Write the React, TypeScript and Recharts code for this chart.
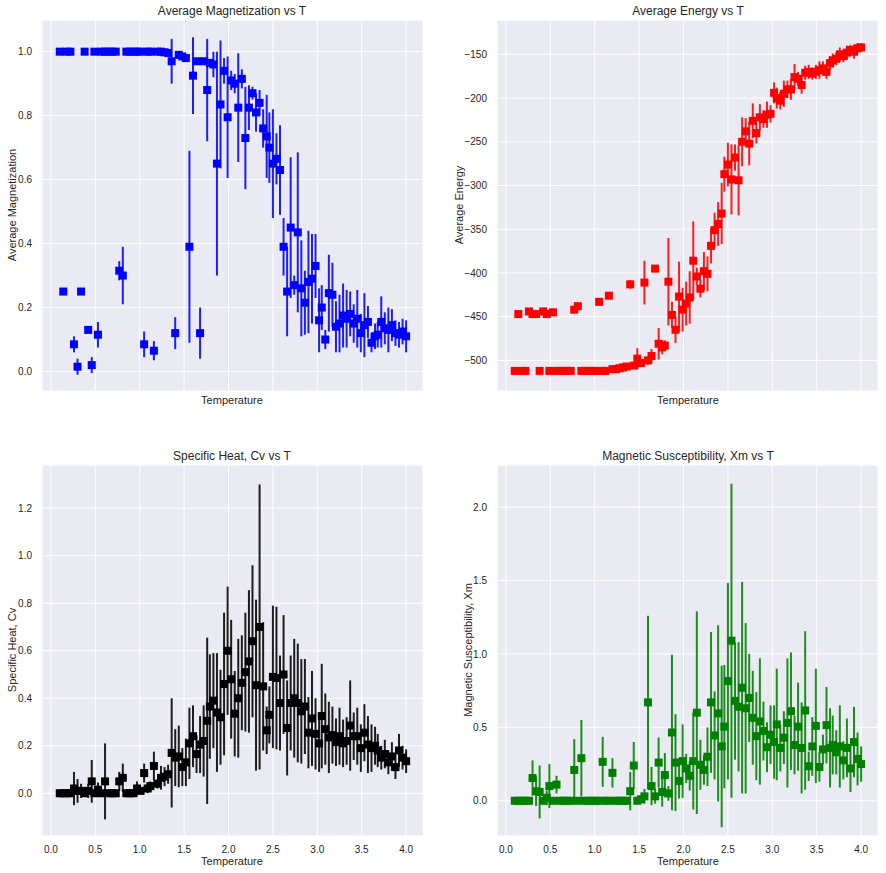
import React from 'react';
import { ScatterChart, Scatter, XAxis, YAxis, CartesianGrid, ErrorBar } from 'recharts';

const temps = [0.10,0.14,0.18,0.22,0.26,0.30,0.34,0.38,0.42,0.46,0.49,0.53,0.57,0.61,0.65,0.69,0.73,0.77,0.81,0.85,0.89,0.93,0.97,1.01,1.05,1.09,1.12,1.16,1.20,1.24,1.28,1.32,1.36,1.40,1.44,1.48,1.52,1.56,1.60,1.64,1.68,1.72,1.76,1.79,1.83,1.87,1.91,1.95,1.99,2.03,2.07,2.11,2.15,2.19,2.23,2.27,2.31,2.35,2.39,2.43,2.46,2.50,2.54,2.58,2.62,2.66,2.70,2.74,2.78,2.82,2.86,2.90,2.94,2.98,3.02,3.05,3.09,3.13,3.17,3.21,3.25,3.29,3.33,3.37,3.41,3.45,3.49,3.53,3.57,3.61,3.65,3.68,3.72,3.76,3.80,3.84,3.88,3.92,3.96,4.00];

const magVal = [1,0.25,1,1,0.085,0.015,0.25,1,0.13,0.02,1,0.115,1,1,1,1,1,0.315,0.30,1,1,1,1,1,0.085,1,1,0.065,1,1,0.998,0.996,0.97,0.12,0.99,0.985,0.98,0.39,0.925,0.97,0.12,0.97,0.88,0.965,0.96,0.65,0.835,0.94,0.795,0.91,0.90,0.825,0.915,0.73,0.825,0.87,0.81,0.84,0.76,0.735,0.70,0.65,0.665,0.63,0.39,0.25,0.45,0.27,0.435,0.26,0.215,0.28,0.29,0.33,0.16,0.20,0.10,0.245,0.24,0.14,0.15,0.175,0.165,0.18,0.15,0.165,0.12,0.145,0.155,0.09,0.11,0.115,0.155,0.135,0.13,0.145,0.12,0.115,0.125,0.11];
const magErr = [0,0,0,0,0.025,0.025,0,0,0.01,0.025,0,0.04,0,0,0,0,0,0.03,0.09,0,0,0,0,0,0.04,0,0,0.03,0,0,0.002,0.003,0.07,0.05,0.005,0.01,0.01,0.3,0.12,0.01,0.08,0.01,0.16,0.01,0.04,0.35,0.2,0.04,0.19,0.03,0.03,0.17,0.03,0.16,0.07,0.02,0.06,0.04,0.06,0.13,0.11,0.17,0.08,0.14,0.09,0.14,0.22,0.03,0.25,0.15,0.1,0.16,0.14,0.10,0.1,0.07,0.03,0.12,0.1,0.08,0.09,0.1,0.09,0.07,0.06,0.09,0.06,0.1,0.05,0.03,0.04,0.04,0.08,0.05,0.07,0.05,0.04,0.04,0.04,0.05];

const enVal = [-512,-447,-512,-512,-444,-447,-447,-512,-444,-447,-512,-445,-512,-512,-512,-512,-512,-442,-438,-512,-512,-512,-512,-512,-433,-512,-512,-426,-510,-510,-509,-508,-507,-413,-506,-498,-503,-411,-500,-495,-395,-481,-485,-483,-410,-448,-465,-427,-442,-435,-428,-386,-404,-418,-398,-401,-369,-351,-344,-332,-287,-276,-293,-268,-294,-250,-238,-252,-226,-240,-222,-224,-219,-218,-194,-200,-203,-195,-190,-190,-176,-178,-185,-171,-170,-172,-170,-168,-166,-170,-160,-157,-155,-150,-152,-148,-145,-147,-143,-142];
const enErr = [0,0,0,0,0,0,0,0,0,3,0,0,0,0,0,0,0,0,0,0,0,0,0,0,3,0,0,4,1,1,2,2,3,5,3,12,4,25,5,8,4,18,8,6,50,15,15,40,25,25,30,45,10,10,22,20,20,20,25,35,20,25,40,15,40,28,15,25,20,12,15,10,15,10,12,12,10,15,10,12,15,8,10,8,8,7,8,10,8,8,8,8,7,8,7,8,6,8,6,5];

const cvVal = [0,0,0,0,0.02,0.01,0.01,0,0.01,0.05,0,0.015,0,0.05,0,0,0,0.05,0.065,0,0,0,0.02,0.01,0.085,0.02,0.03,0.115,0.04,0.065,0.07,0.08,0.17,0.15,0.155,0.11,0.13,0.21,0.24,0.165,0.205,0.22,0.305,0.365,0.39,0.34,0.32,0.46,0.60,0.48,0.335,0.40,0.465,0.51,0.555,0.64,0.455,0.70,0.45,0.265,0.33,0.49,0.485,0.38,0.50,0.275,0.38,0.40,0.38,0.345,0.365,0.255,0.315,0.25,0.21,0.325,0.27,0.235,0.245,0.215,0.24,0.21,0.22,0.285,0.24,0.24,0.19,0.255,0.205,0.19,0.20,0.18,0.15,0.165,0.13,0.155,0.11,0.18,0.15,0.135];
const cvErr = [0,0,0,0,0.07,0.05,0.03,0,0.03,0.09,0,0.03,0,0.16,0,0,0,0.04,0.06,0,0,0,0.03,0.01,0.04,0.02,0.02,0.06,0.02,0.05,0.04,0.04,0.23,0.12,0.13,0.08,0.1,0.15,0.13,0.08,0.12,0.15,0.35,0.22,0.2,0.25,0.2,0.3,0.27,0.25,0.18,0.25,0.2,0.25,0.3,0.32,0.36,0.6,0.27,0.1,0.12,0.3,0.3,0.2,0.25,0.2,0.2,0.25,0.25,0.22,0.2,0.15,0.2,0.15,0.12,0.22,0.15,0.15,0.12,0.1,0.12,0.1,0.1,0.19,0.1,0.12,0.1,0.12,0.12,0.1,0.08,0.07,0.05,0.06,0.05,0.06,0.05,0.07,0.05,0.05];

const xmVal = [0,0,0,0,0,0.155,0.065,0.06,0,0.02,0.10,0,0.11,0,0,0,0,0.21,0,0.29,0,0,0,0,0,0.265,0,0,0.19,0,0,0,0,0.065,0.24,0,0.01,0.03,0.67,0.10,0.03,0.26,0.06,0.175,0.05,0.465,0.26,0.135,0.27,0.22,0.17,0.27,0.60,0.245,0.21,0.30,0.67,0.445,0.595,0.37,0.505,0.815,1.09,0.68,0.64,0.77,0.63,0.70,0.565,0.44,0.54,0.475,0.365,0.45,0.40,0.52,0.36,0.43,0.53,0.61,0.38,0.505,0.36,0.615,0.235,0.37,0.51,0.23,0.35,0.515,0.36,0.38,0.33,0.37,0.275,0.36,0.22,0.40,0.285,0.25];
const xmErr = [0,0,0,0,0,0.12,0.1,0.18,0,0.05,0.15,0,0.06,0,0,0,0,0.21,0,0.26,0,0,0,0,0,0.17,0,0,0.1,0,0,0,0,0.13,0.16,0,0.01,0.05,0.59,0.13,0.05,0.17,0.1,0.15,0.05,0.53,0.33,0.12,0.25,0.1,0.1,0.33,0.69,0.17,0.1,0.2,0.48,0.3,0.6,0.55,0.42,0.67,1.07,0.4,0.44,0.72,0.58,0.3,0.32,0.3,0.43,0.2,0.17,0.2,0.25,0.38,0.16,0.18,0.44,0.4,0.2,0.3,0.31,0.54,0.1,0.2,0.39,0.1,0.1,0.26,0.27,0.2,0.15,0.28,0.13,0.2,0.16,0.24,0.18,0.12];

const xTicks = [0, 0.5, 1, 1.5, 2, 2.5, 3, 3.5, 4];
const magTicks = [0, 0.2, 0.4, 0.6, 0.8, 1.0];
const enTicks = [-500, -450, -400, -350, -300, -250, -200, -150];
const cvTicks = [0, 0.2, 0.4, 0.6, 0.8, 1.0, 1.2];
const xmTicks = [0, 0.5, 1.0, 1.5, 2.0];

const build = (v: number[], e: number[]) => temps.map((t, i) => ({ t, v: v[i], e: e[i] }));

const FONT = '"Liberation Sans", Arial, sans-serif';
const TXT = '#262626';

const Square = (color: string) => (p: any) =>
  p.cx == null ? <g /> : <rect x={p.cx - 4} y={p.cy - 4} width={8} height={8} fill={color} />;

const Empty = () => <g />;

function Panel(props: any) {
  const { left, top, width, height, margin, yWidth, xHeight, data, color, yDomain, yTicks, yFmt, showX } = props;
  return (
    <div style={{ position: 'absolute', left, top }}>
      <ScatterChart width={width} height={height} margin={margin}>
        <CartesianGrid fill="#EAEAF2" stroke="#ffffff" strokeWidth={1} />
        <XAxis type="number" dataKey="t" domain={[-0.1, 4.19]} ticks={xTicks} allowDataOverflow
          axisLine={false} tickLine={false} height={xHeight}
          tick={showX ? { fontSize: 10, fill: TXT, fontFamily: FONT } : Empty}
          tickFormatter={(v: number) => v.toFixed(1)} tickMargin={4} />
        <YAxis type="number" dataKey="v" domain={yDomain} ticks={yTicks} allowDataOverflow
          axisLine={false} tickLine={false} width={yWidth}
          tick={{ fontSize: 10, fill: TXT, fontFamily: FONT }} tickFormatter={yFmt} tickMargin={4} />
        <Scatter data={data} dataKey="v" shape={Square(color)} isAnimationActive={false}>
          <ErrorBar dataKey="e" direction="y" width={0} stroke={color} strokeOpacity={0.88} strokeWidth={2} isAnimationActive={false} />
        </Scatter>
      </ScatterChart>
    </div>
  );
}

const Label = ({ x, y, text, rotate = false, size = 12 }: any) => (
  <div style={{
    position: 'absolute', left: x, top: y, transform: `translate(-50%, -50%)${rotate ? ' rotate(-90deg)' : ''}`,
    whiteSpace: 'nowrap', fontFamily: FONT, fontSize: size, color: TXT, lineHeight: 1,
  }}>{text}</div>
);

export default function App() {
  const f1 = (v: number) => v.toFixed(1);
  const f0 = (v: number) => String(v).replace('-', '\u2212');
  return (
    <div style={{ position: 'absolute', left: 0, top: 0, width: 886, height: 873, background: '#fff' }}>
      <Panel left={0} top={0} width={430} height={420} margin={{ top: 20, right: 7, left: 0, bottom: 0 }}
        yWidth={42} xHeight={29} data={build(magVal, magErr)} color="#0000ff"
        yDomain={[-0.061, 1.099]} yTicks={magTicks} yFmt={f1} showX={false} />
      <Panel left={440} top={0} width={446} height={420} margin={{ top: 20, right: 8, left: 0, bottom: 0 }}
        yWidth={57} xHeight={29} data={build(enVal, enErr)} color="#ff0000"
        yDomain={[-535, -110.7]} yTicks={enTicks} yFmt={f0} showX={false} />
      <Panel left={0} top={440} width={430} height={433} margin={{ top: 25, right: 7, left: 0, bottom: 0 }}
        yWidth={42} xHeight={37} data={build(cvVal, cvErr)} color="#000000"
        yDomain={[-0.18, 1.382]} yTicks={cvTicks} yFmt={f1} showX={true} />
      <Panel left={440} top={440} width={446} height={433} margin={{ top: 25, right: 8, left: 0, bottom: 0 }}
        yWidth={57} xHeight={37} data={build(xmVal, xmErr)} color="#008000"
        yDomain={[-0.24, 2.287]} yTicks={xmTicks} yFmt={f1} showX={true} />

      <Label x={232} y={11} text="Average Magnetization vs T" />
      <Label x={688} y={11} text="Average Energy vs T" />
      <Label x={232} y={456} text="Specific Heat, Cv vs T" />
      <Label x={688} y={456} text="Magnetic Susceptibility, Xm vs T" />
      <Label x={232} y={400} text="Temperature" size={11} />
      <Label x={688} y={400} text="Temperature" size={11} />
      <Label x={232} y={861} text="Temperature" size={11} />
      <Label x={688} y={861} text="Temperature" size={11} />
      <Label x={12} y={205} text="Average Magnetization" rotate size={11} />
      <Label x={459} y={205} text="Average Energy" rotate size={11} />
      <Label x={12} y={650} text="Specific Heat, Cv" rotate size={11} />
      <Label x={468} y={650} text="Magnetic Susceptibility, Xm" rotate size={11} />
    </div>
  );
}
